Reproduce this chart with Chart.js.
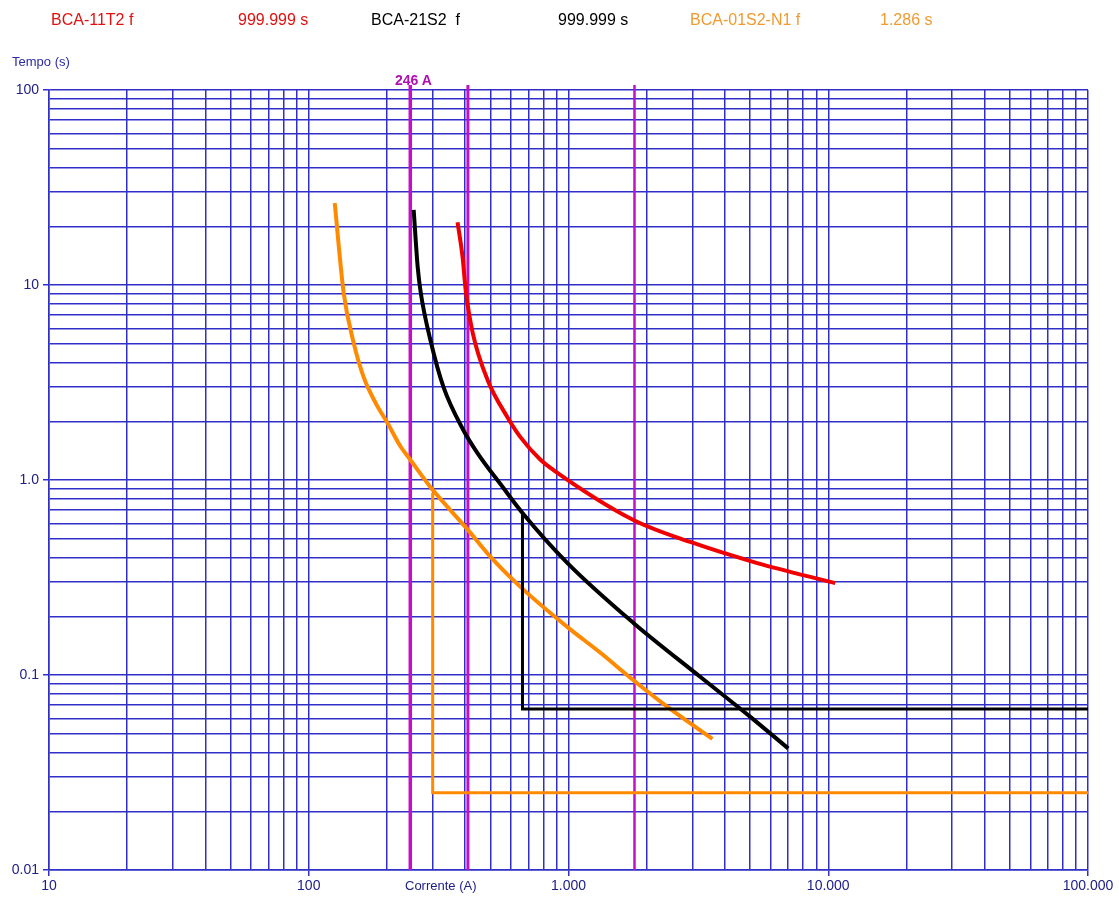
<!DOCTYPE html>
<html>
<head>
<meta charset="utf-8">
<script src="https://cdn.jsdelivr.net/npm/chart.js@4.4.1/dist/chart.umd.min.js"></script>
<style>
  body { margin: 0; background: #fff; font-family: "Liberation Sans", Arial, sans-serif; }
  #wrap { position: relative; width: 1119px; height: 898px; }
  #plot { position: absolute; left: 0; top: 0; }
  .lbl { position: absolute; white-space: pre; line-height: 1; }
</style>
</head>
<body>
<div id="wrap">
  <canvas id="plot" width="1119" height="898"></canvas>
  <div class="lbl" style="left:51px;top:12px;font-size:16px;color:#e01010">BCA-11T2 f</div>
  <div class="lbl" style="left:238px;top:12px;font-size:16px;color:#e01010">999.999 s</div>
  <div class="lbl" style="left:371px;top:12px;font-size:16px;color:#000">BCA-21S2  f</div>
  <div class="lbl" style="left:558px;top:12px;font-size:16px;color:#000">999.999 s</div>
  <div class="lbl" style="left:690px;top:12px;font-size:16px;color:#f09a30">BCA-01S2-N1 f</div>
  <div class="lbl" style="left:880px;top:12px;font-size:16px;color:#f09a30">1.286 s</div>
  <div class="lbl" style="left:12px;top:55px;font-size:13px;color:#2a2aa8">Tempo (s)</div>
  <div class="lbl" style="left:395px;top:73px;font-size:14px;font-weight:bold;color:#b010b0">246 A</div>
  <div class="lbl" style="left:405px;top:879px;font-size:13px;color:#20208a">Corrente (A)</div>
</div>
<script>
// Axis decades and tick labels
const xDecades = [10, 100, 1000, 10000, 100000];
const xTickLabels = ["10", "100", "1.000", "10.000", "100.000"];
const yDecades = [0.01, 0.1, 1, 10, 100];
const yTickLabels = ["0.01", "0.1", "1.0", "10", "100"];

// BCA-11T2 f (red)
const redX = [374, 391, 402, 428, 488, 582, 653, 780, 875, 1778, 2945, 5330, 10640];
const redY = [21.0, 13.9, 9.4, 5.67, 3.26, 2.10, 1.66, 1.27, 1.125, 0.624, 0.481, 0.375, 0.296];

// BCA-21S2 f (black)
const blackX = [253.5, 262.6, 270, 294, 330, 394, 447, 558, 665, 991, 1778, 3222, 5012, 7015];
const blackY = [24.3, 12.4, 9.1, 5.22, 3.0, 1.80, 1.37, 0.92, 0.678, 0.375, 0.185, 0.0977, 0.061, 0.042];
const blackStepX = [665, 665, 100000];
const blackStepY = [0.678, 0.067, 0.067];

// BCA-01S2-N1 f (orange)
const orangeX = [125.9, 136.3, 148.9, 162.7, 181, 201, 226, 246, 294, 410, 501, 653, 991, 1327, 1778, 2405, 3580];
const orangeY = [26.3, 9.1, 5.05, 3.37, 2.48, 1.96, 1.48, 1.27, 0.92, 0.555, 0.403, 0.283, 0.176, 0.130, 0.094, 0.0686, 0.047];
const orangeStepX = [300, 300, 100000];
const orangeStepY = [0.86, 0.0249, 0.0249];

// Vertical current markers (magenta)
const markerX = [246, 410, 1795];
const markerTop = 106;
const markerBottom = 0.01;

const GRID = "#3030c8";

function pts(xs, ys) {
  return xs.map((x, i) => ({x: x, y: ys[i]}));
}

function logTicks(decades) {
  const ticks = [];
  for (let i = 0; i < decades.length; i++) {
    const d = decades[i];
    if (i === decades.length - 1) {
      ticks.push({value: d, major: true});
      break;
    }
    for (let m = 1; m <= 9; m++) {
      ticks.push({value: +(m * d).toPrecision(6), major: m === 1});
    }
  }
  return ticks;
}

function decadeLabel(decades, labels, value) {
  for (let i = 0; i < decades.length; i++) {
    if (Math.abs(value - decades[i]) < decades[i] * 1e-6) return labels[i];
  }
  return "";
}

const curveSets = [
  {data: pts(redX, redY), borderColor: "#f00000", borderWidth: 4, cubicInterpolationMode: "monotone"},
  {data: pts(blackX, blackY), borderColor: "#000000", borderWidth: 4, cubicInterpolationMode: "monotone"},
  {data: pts(blackStepX, blackStepY), borderColor: "#000000", borderWidth: 3},
  {data: pts(orangeX, orangeY), borderColor: "#ff8a00", borderWidth: 4, cubicInterpolationMode: "monotone"},
  {data: pts(orangeStepX, orangeStepY), borderColor: "#ff8a00", borderWidth: 3}
];

const markerWidths = [3.5, 3, 2.5];
const markerSets = markerX.map((x, i) => ({
  data: [{x: x, y: markerBottom}, {x: x, y: markerTop}],
  borderColor: "#c010c8",
  borderWidth: markerWidths[i],
  clip: false,
  order: 10
}));

const datasets = markerSets.concat(curveSets.map(s => Object.assign({order: 1}, s)));
datasets.forEach(s => {
  s.showLine = true;
  s.pointRadius = 0;
  s.fill = false;
});

new Chart(document.getElementById("plot"), {
  type: "scatter",
  data: {datasets: datasets},
  options: {
    responsive: false,
    animation: false,
    layout: {padding: {left: 0, top: 90, right: 31, bottom: 0}},
    plugins: {legend: {display: false}, tooltip: {enabled: false}},
    scales: {
      x: {
        type: "logarithmic",
        min: 10,
        max: 100000,
        afterBuildTicks: (scale) => { scale.ticks = logTicks(xDecades); },
        afterFit: (scale) => { scale.height = 28; },
        border: {color: GRID, width: 1.5},
        grid: {
          color: GRID,
          lineWidth: 1.5,
          tickLength: 6,
          tickColor: (ctx) => (ctx.tick && ctx.tick.major) ? GRID : "rgba(0,0,0,0)"
        },
        ticks: {
          autoSkip: false,
          maxRotation: 0,
          padding: 2,
          color: "#20208a",
          font: {family: "Liberation Sans", size: 14},
          callback: (value) => decadeLabel(xDecades, xTickLabels, value)
        }
      },
      y: {
        type: "logarithmic",
        min: 0.01,
        max: 100,
        afterBuildTicks: (scale) => { scale.ticks = logTicks(yDecades); },
        afterFit: (scale) => { scale.width = 49; },
        border: {color: GRID, width: 1.5},
        grid: {
          color: GRID,
          lineWidth: 1.5,
          tickLength: 6,
          tickColor: (ctx) => (ctx.tick && ctx.tick.major) ? GRID : "rgba(0,0,0,0)"
        },
        ticks: {
          autoSkip: false,
          padding: 4,
          color: "#20208a",
          font: {family: "Liberation Sans", size: 14},
          callback: (value) => decadeLabel(yDecades, yTickLabels, value)
        }
      }
    }
  }
});
</script>
</body>
</html>
